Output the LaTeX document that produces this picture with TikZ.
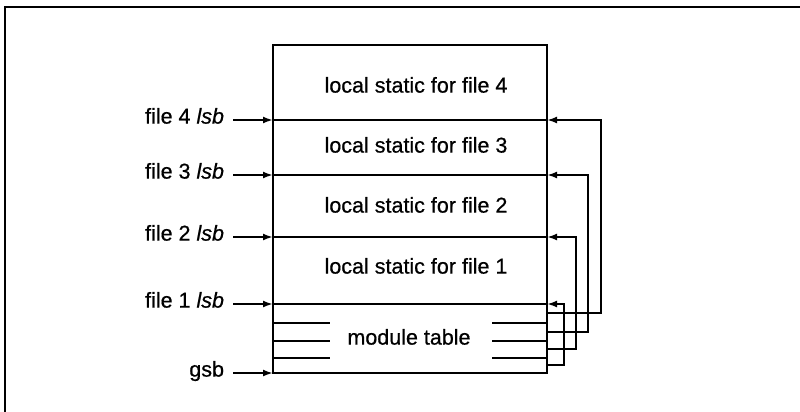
\documentclass[tikz,border=0pt]{standalone}
\usepackage{fontspec}
\setmainfont{Liberation Sans}[FakeBold=0.6]
\usetikzlibrary{arrows.meta}
\begin{document}
\begin{tikzpicture}[x=1pt,y=-1pt,line width=2pt,
  txt/.style={font=\fontsize{21.5}{25}\selectfont,inner sep=0pt,text height=0.72em,text depth=0pt},
  ptr/.style={-{Latex[length=10pt,width=7pt]}},
]
\useasboundingbox (0,0) rectangle (800,412);
% outer frame
\draw (5,412) -- (5,7) -- (800,7);
% main box
\draw (273,45) rectangle (547,373);
% lsb lines
\foreach \n/\y in {4/120,3/175,2/237,1/304}{
  \coordinate (L\n) at (273,\y);
  \coordinate (R\n) at (547,\y);
  \draw (L\n) -- (R\n);
}
\coordinate (G) at (273,373);
% module table short lines
\foreach \y in {323,341,358}{
  \draw (273,\y) -- (330,\y);
  \draw (492,\y) -- (547,\y);
}
% texts inside
\node[txt] (s4) at (416,89) {local static for file 4};
\node[txt] (s3) at (416,149) {local static for file 3};
\node[txt] (s2) at (416,209) {local static for file 2};
\node[txt] (s1) at (416,270) {local static for file 1};
\node[txt] (mt) at (409,341) {module table};
% left labels
\node[txt,anchor=east] (f4) at (225,120) {file 4 \textit{lsb}};
\node[txt,anchor=east] (f3) at (225,175) {file 3 \textit{lsb}};
\node[txt,anchor=east] (f2) at (225,237) {file 2 \textit{lsb}};
\node[txt,anchor=east] (f1) at (225,304) {file 1 \textit{lsb}};
\node[txt,anchor=east] (gs) at (225,373) {gsb};
\draw[ptr] ([xshift=8pt]f4.east) -- (L4);
\draw[ptr] ([xshift=8pt]f3.east) -- (L3);
\draw[ptr] ([xshift=8pt]f2.east) -- (L2);
\draw[ptr] ([xshift=8pt]f1.east) -- (L1);
\draw[ptr] ([xshift=8pt]gs.east |- G) -- (G);
% right pointers from module table rows
\coordinate (m4) at (547,313);
\coordinate (m3) at (547,332);
\coordinate (m2) at (547,349);
\coordinate (m1) at (547,365);
\draw[ptr] (m4) -- (601,313) -- (601,120) -- (R4);
\draw[ptr] (m3) -- (588,332) -- (588,175) -- (R3);
\draw[ptr] (m2) -- (576,349) -- (576,237) -- (R2);
\draw[ptr] (m1) -- (564,365) -- (564,304) -- (R1);
\end{tikzpicture}
\end{document}
